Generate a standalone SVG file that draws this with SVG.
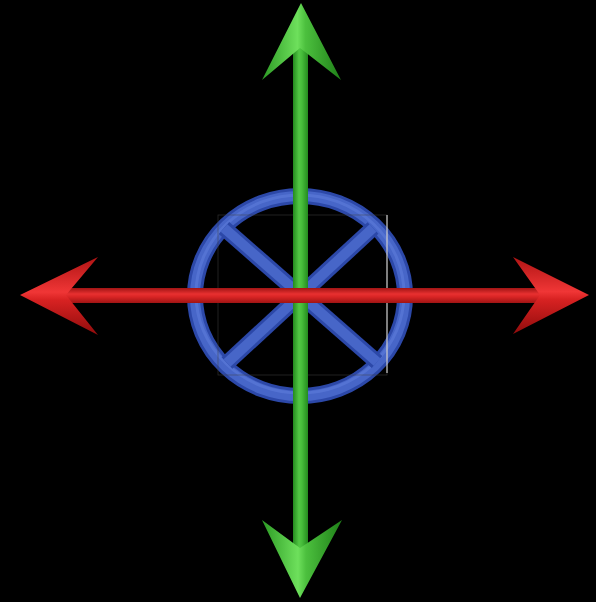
<svg xmlns="http://www.w3.org/2000/svg" width="596" height="602" viewBox="0 0 596 602">
<style>
.tubeD{fill:none;stroke:#2c48a8;stroke-width:16;stroke-linecap:butt}
.tubeM{fill:none;stroke:#4766c8;stroke-width:10;stroke-linecap:butt}
.tubeH{fill:none;stroke:#6a88e4;stroke-width:3}
.frame{fill:none;stroke:#444;stroke-width:0.8;opacity:0.6}
</style>
<defs>
<linearGradient id="gV" x1="0" y1="0" x2="1" y2="0">
<stop offset="0" stop-color="#248a1e"/><stop offset="0.4" stop-color="#52c844"/><stop offset="0.6" stop-color="#46bc3a"/><stop offset="1" stop-color="#248a1e"/>
</linearGradient>
<linearGradient id="rH" x1="0" y1="0" x2="0" y2="1">
<stop offset="0" stop-color="#a01414"/><stop offset="0.4" stop-color="#e83030"/><stop offset="0.6" stop-color="#d82424"/><stop offset="1" stop-color="#a01414"/>
</linearGradient>
<linearGradient id="gHead" x1="0" y1="0" x2="1" y2="0">
<stop offset="0" stop-color="#2c9a24"/><stop offset="0.45" stop-color="#6ee05c"/><stop offset="0.55" stop-color="#4cc03e"/><stop offset="1" stop-color="#1f8018"/>
</linearGradient>
<linearGradient id="rHead" x1="0" y1="0" x2="0" y2="1">
<stop offset="0" stop-color="#b01414"/><stop offset="0.45" stop-color="#f03636"/><stop offset="0.55" stop-color="#d82222"/><stop offset="1" stop-color="#900c0c"/>
</linearGradient>
</defs>
<rect x="0" y="0" width="596" height="602" fill="#000"/>
<g id="wheel">
<ellipse class="tubeD" cx="300" cy="296" rx="105" ry="100"/>
<ellipse class="tubeM" cx="300" cy="296" rx="105" ry="100"/>
<ellipse class="tubeH" cx="300" cy="294" rx="104" ry="99" opacity="0.4"/>
<line class="tubeD" x1="224" y1="228" x2="377" y2="362"/>
<line class="tubeD" x1="373" y1="228" x2="227" y2="363"/>
<line class="tubeM" x1="224" y1="228" x2="377" y2="362"/>
<line class="tubeM" x1="373" y1="228" x2="227" y2="363"/>
<rect class="frame" x="218" y="215" width="169" height="160"/>
<line x1="387" y1="215" x2="387" y2="373" stroke="#eee" stroke-width="1"/>
</g>
<g id="connectors">
<g id="vertical-arrow">
<rect x="293" y="48" width="15" height="500" fill="url(#gV)"/>
<polygon points="301,3 341,80 300,48 262,80" fill="url(#gHead)"/>
<polygon points="300,598 342,520 300,548 262,520" fill="url(#gHead)"/>
</g>
<g id="horizontal-arrow">
<rect x="64" y="288" width="476" height="15" fill="url(#rH)"/>
<polygon points="20,295 98,257 66,295 98,335" fill="url(#rHead)"/>
<polygon points="589,295 513,257 540,295 513,334" fill="url(#rHead)"/>
</g>
</g>
</svg>
